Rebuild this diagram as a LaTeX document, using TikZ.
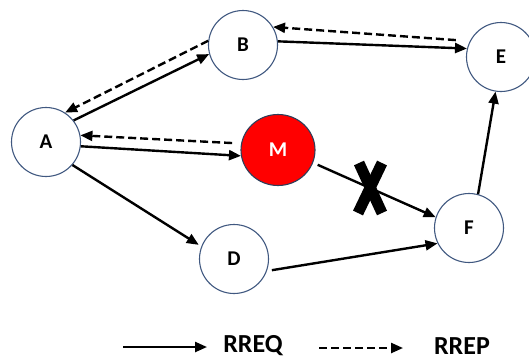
\documentclass[tikz,border=0pt]{standalone}
\usepackage{fontspec}
\setmainfont{Carlito}
\usetikzlibrary{arrows.meta,shapes.geometric}
\definecolor{ring}{RGB}{64,88,128}
\definecolor{mred}{RGB}{255,0,0}
\tikzset{
  nodec/.style={circle,draw=ring,line width=1.1pt,fill=white,minimum size=69pt,inner sep=0pt,font=\fontsize{21}{22}\selectfont\bfseries},
  mnode/.style={ellipse,draw=ring!70!black,line width=1.1pt,fill=mred,minimum width=74pt,minimum height=71pt,inner sep=0pt,text=white,font=\fontsize{21}{22}\selectfont\bfseries},
  rreq/.style={line width=2.4pt,-{Triangle[length=12pt,width=10pt]}},
  rrep/.style={line width=2.4pt,dash pattern=on 8pt off 4pt,-{Triangle[length=12pt,width=10pt]}},
  legtext/.style={font=\fontsize{26}{28}\selectfont\bfseries,inner sep=0pt},
  xmark/.style={line width=11pt,line cap=butt}
}
\begin{document}
\begin{tikzpicture}[x=1pt,y=-1pt]
\useasboundingbox (0,0) rectangle (529,360);
\node[nodec] (A) at (46,142) {A};
\node[nodec] (B) at (243,45) {B};
\node[nodec] (E) at (501,57) {E};
\node[mnode] (M) at (278,150) {M};
\node[nodec] (F) at (469,228) {F};
\node[nodec] (D) at (234,259) {D};
% connectors
\draw[rreq] (A.38) -- (B.195);
\draw[rrep] (B.173) -- (A.57);
\draw[rreq] (B.6) -- (E.166);
\draw[rrep,shorten <=14pt] (E.153) -- (B.31);
\draw[rreq] (A.-7) -- (M.189);
\draw[rrep,shorten <=9pt] (M.170) -- (A.11);
\draw[rreq,shorten <=5pt] (M.-20) -- (F.162);
\draw[rreq,shorten >=3pt] (A.-41) -- (D.159);
\draw[rreq,shorten <=5pt] (D.-20) -- (F.206);
\draw[rreq] (F.75) -- (E.261);
% broken link mark
\coordinate (x1) at (359,163);
\coordinate (x2) at (382,213);
\coordinate (x3) at (382,163);
\coordinate (x4) at (358,213);
\draw[xmark] (x1) -- (x2);
\draw[xmark] (x3) -- (x4);
% legend
\coordinate (l1) at (123,347);
\coordinate (l2) at (207,347);
\coordinate (l3) at (319,348);
\coordinate (l4) at (403,348);
\draw[rreq] (l1) -- (l2);
\draw[rrep] (l3) -- (l4);
\node[legtext] (rreq) at (253,346) {RREQ};
\node[legtext] (rrep) at (462,346) {RREP};
\end{tikzpicture}
\end{document}
